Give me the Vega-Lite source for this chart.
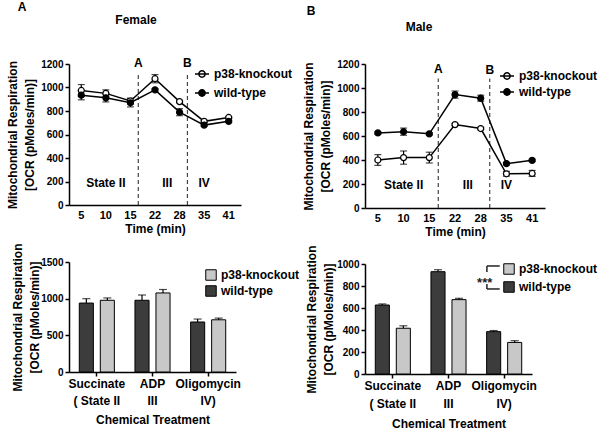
{
  "$schema": "https://vega.github.io/schema/vega-lite/v6.json",
  "padding": {"left": 6, "top": 0, "right": 0, "bottom": 0},
  "background": "white",
  "datasets": {
    "fline": [
      {"t": 5, "series": "p38-knockout", "v": 975, "e": 50},
      {"t": 10, "series": "p38-knockout", "v": 950, "e": 30},
      {"t": 15, "series": "p38-knockout", "v": 885, "e": 25},
      {"t": 22, "series": "p38-knockout", "v": 1075, "e": 35},
      {"t": 28, "series": "p38-knockout", "v": 880, "e": 10},
      {"t": 35, "series": "p38-knockout", "v": 712, "e": 10},
      {"t": 41, "series": "p38-knockout", "v": 745, "e": 8},
      {"t": 5, "series": "wild-type", "v": 935, "e": 40},
      {"t": 10, "series": "wild-type", "v": 912, "e": 35},
      {"t": 15, "series": "wild-type", "v": 870, "e": 35},
      {"t": 22, "series": "wild-type", "v": 980, "e": 10},
      {"t": 28, "series": "wild-type", "v": 790, "e": 30},
      {"t": 35, "series": "wild-type", "v": 680, "e": 10},
      {"t": 41, "series": "wild-type", "v": 712, "e": 10}
    ],
    "mline": [
      {"t": 5, "series": "p38-knockout", "v": 400, "e": 45},
      {"t": 10, "series": "p38-knockout", "v": 420, "e": 55},
      {"t": 15, "series": "p38-knockout", "v": 420, "e": 45},
      {"t": 22, "series": "p38-knockout", "v": 695, "e": 10},
      {"t": 28, "series": "p38-knockout", "v": 662, "e": 10},
      {"t": 35, "series": "p38-knockout", "v": 285, "e": 20},
      {"t": 41, "series": "p38-knockout", "v": 288, "e": 25},
      {"t": 5, "series": "wild-type", "v": 626, "e": 10},
      {"t": 10, "series": "wild-type", "v": 636, "e": 30},
      {"t": 15, "series": "wild-type", "v": 618, "e": 10},
      {"t": 22, "series": "wild-type", "v": 945, "e": 30},
      {"t": 28, "series": "wild-type", "v": 915, "e": 25},
      {"t": 35, "series": "wild-type", "v": 370, "e": 10},
      {"t": 41, "series": "wild-type", "v": 397, "e": 10}
    ],
    "fbar": [
      {"treatment": "Succinate", "series": "wild-type", "v": 940, "v2": 1000},
      {"treatment": "Succinate", "series": "p38-knockout", "v": 978, "v2": 1010},
      {"treatment": "ADP", "series": "wild-type", "v": 978, "v2": 1050},
      {"treatment": "ADP", "series": "p38-knockout", "v": 1078, "v2": 1125},
      {"treatment": "Oligomycin", "series": "wild-type", "v": 682, "v2": 722},
      {"treatment": "Oligomycin", "series": "p38-knockout", "v": 712, "v2": 735}
    ],
    "mbar": [
      {"treatment": "Succinate", "series": "wild-type", "v": 627, "v2": 637},
      {"treatment": "Succinate", "series": "p38-knockout", "v": 416, "v2": 438},
      {"treatment": "ADP", "series": "wild-type", "v": 930, "v2": 948},
      {"treatment": "ADP", "series": "p38-knockout", "v": 676, "v2": 688},
      {"treatment": "Oligomycin", "series": "wild-type", "v": 385, "v2": 395},
      {"treatment": "Oligomycin", "series": "p38-knockout", "v": 287, "v2": 303}
    ],
    "fphase": [{"t": 15, "v": 0, "v2": 1125}, {"t": 28, "v": 0, "v2": 1125}],
    "fphaselab": [{"t": 15, "label": "A", "v": 1210}, {"t": 28, "label": "B", "v": 1210}],
    "mphase": [{"t": 15, "v": 0, "v2": 1080}, {"t": 28, "v": 0, "v2": 1080}],
    "mphaselab": [{"t": 15, "label": "A", "v": 1155}, {"t": 28, "label": "B", "v": 1150}],
    "reg1": [{"t": 10, "label": "State II", "v": 190}, {"t": 35, "label": "IV", "v": 190}],
    "reg2": [{"t": 22, "label": "III", "v": 190}],
    "brkv": [{"treatment": "Oligomycin", "v": 982, "v2": 927}, {"treatment": "Oligomycin", "v": 818, "v2": 773}],
    "brkh": [{"treatment": "Oligomycin", "v": 982}, {"treatment": "Oligomycin", "v": 773}],
    "stars": [{"treatment": "Oligomycin", "v": 825, "label": "***"}]
  },
  "hconcat": [
    {
      "title": {"text": "A", "anchor": "start", "fontSize": 12, "fontWeight": "bold", "offset": 0, "dx": 11},
      "spacing": 8,
      "resolve": {"scale": {"x": "independent", "y": "independent", "fill": "independent"}, "legend": {"fill": "independent"}},
      "vconcat": [
        {"hconcat": [
        {
          "width": 172, "height": 141,
          "title": {"text": "Female", "anchor": "middle", "frame": "group", "dx": -19, "offset": 30, "fontSize": 12, "fontWeight": "bold"},
          "encoding": {
            "x": {"field": "t", "type": "ordinal", "scale": {"type": "band", "paddingInner": 0, "paddingOuter": 0}, "axis": {"title": "Time (min)", "labelAngle": 0, "ticks": false, "labelPadding": 4, "titlePadding": 3}},
            "y": {"field": "v", "type": "quantitative", "scale": {"domain": [0, 1200]}, "axis": {"title": ["Mitochondrial Respiration", "[OCR (pMoles/min)]"], "values": [0, 200, 400, 600, 800, 1000, 1200], "format": "d", "labelFontSize": 10, "tickSize": 4, "labelPadding": 2, "titlePadding": 4}}
          },
          "layer": [
            {"data": {"name": "fphase"}, "mark": {"type": "rule", "strokeDash": [4, 3], "color": "#444", "strokeWidth": 1.2},
             "encoding": {"x": {"field": "t", "type": "ordinal", "bandPosition": 0.82}, "y2": {"field": "v2"}}},
            {"data": {"name": "fphaselab"}, "mark": {"type": "text", "fontSize": 12, "fontWeight": "bold", "baseline": "middle"},
             "encoding": {"x": {"field": "t", "type": "ordinal", "bandPosition": 0.82}, "text": {"field": "label"}}},
            {"data": {"name": "reg1"}, "mark": {"type": "text", "fontSize": 12, "fontWeight": "bold", "baseline": "middle"},
             "encoding": {"text": {"field": "label"}}},
            {"data": {"name": "reg2"}, "mark": {"type": "text", "fontSize": 12, "fontWeight": "bold", "baseline": "middle"},
             "encoding": {"x": {"field": "t", "type": "ordinal", "bandPosition": 1}, "text": {"field": "label"}}},
            {"data": {"name": "fline"}, "mark": {"type": "errorbar", "ticks": {"size": 7}, "color": "black", "thickness": 1.2},
             "encoding": {"yError": {"field": "e"}}},
            {"data": {"name": "fline"}, "mark": {"type": "line", "color": "black", "strokeWidth": 1.5},
             "encoding": {"detail": {"field": "series"}}},
            {"data": {"name": "fline"}, "mark": {"type": "point", "size": 36, "stroke": "black", "strokeWidth": 1.2, "opacity": 1},
             "encoding": {"fill": {"field": "series", "type": "nominal", "scale": {"domain": ["p38-knockout", "wild-type"], "range": ["white", "black"]},
               "legend": {"orient": "none", "legendX": 125, "legendY": 2, "title": null, "symbolType": "M-1,0H1M0.45,0A0.45,0.45 0 1,1 -0.45,0A0.45,0.45 0 1,1 0.45,0Z", "symbolSize": 196, "symbolStrokeColor": "black", "symbolStrokeWidth": 1.5, "labelFontSize": 12, "rowPadding": 4}}}}
          ]
        }]},
        {"hconcat": [
        {
          "width": 167, "height": 110,
          "data": {"name": "fbar"},
          "encoding": {
            "x": {"field": "treatment", "type": "nominal", "sort": ["Succinate", "ADP", "Oligomycin"], "scale": {"paddingInner": 0, "paddingOuter": 0},
              "axis": {"title": "Chemical Treatment", "labelAngle": 0, "labelExpr": "datum.value=='Succinate'?['Succinate','( State II']:datum.value=='ADP'?['ADP','III']:['Oligomycin','IV)']", "labelLineHeight": 17, "labelFontSize": 12, "tickSize": 4, "labelPadding": 2, "titlePadding": 8}},
            "y": {"field": "v", "type": "quantitative", "scale": {"domain": [0, 1500]}, "axis": {"title": ["Mitochondrial Respiration", "[OCR (pMoles/min)]"], "values": [0, 500, 1000, 1500], "format": "d", "labelFontSize": 10, "tickSize": 4, "labelPadding": 2, "titlePadding": -1}},
            "xOffset": {"field": "series", "type": "nominal", "sort": ["wild-type", "p38-knockout"], "scale": {"paddingInner": 0.33, "paddingOuter": 0.49}}
          },
          "layer": [
            {"mark": {"type": "bar", "stroke": "black", "strokeWidth": 1},
             "encoding": {"fill": {"field": "series", "type": "nominal", "scale": {"domain": ["p38-knockout", "wild-type"], "range": ["#c8c8c8", "#3c3c3c"]},
               "legend": {"orient": "none", "legendX": 136, "legendY": 7, "title": null, "symbolType": "square", "symbolSize": 110, "symbolStrokeColor": "black", "symbolStrokeWidth": 1, "labelFontSize": 12, "rowPadding": 0}}}},
            {"mark": {"type": "rule", "color": "black", "strokeWidth": 1.2}, "encoding": {"y2": {"field": "v2"}}},
            {"mark": {"type": "tick", "color": "black", "thickness": 1.2, "size": 8}, "encoding": {"y": {"field": "v2", "type": "quantitative"}}}
          ]
        }]}
      ]
    },
    {
      "title": {"text": "B", "anchor": "start", "fontSize": 12, "fontWeight": "bold", "offset": 3, "dx": 4},
      "spacing": 7,
      "resolve": {"scale": {"x": "independent", "y": "independent", "fill": "independent"}, "legend": {"fill": "independent"}},
      "vconcat": [
        {"hconcat": [
        {
          "width": 180, "height": 144,
          "title": {"text": "Male", "anchor": "middle", "frame": "group", "dx": -36, "offset": 25, "fontSize": 12, "fontWeight": "bold"},
          "encoding": {
            "x": {"field": "t", "type": "ordinal", "scale": {"type": "band", "paddingInner": 0, "paddingOuter": 0}, "axis": {"title": "Time (min)", "labelAngle": 0, "ticks": false, "labelPadding": 4, "titlePadding": 3}},
            "y": {"field": "v", "type": "quantitative", "scale": {"domain": [0, 1200]}, "axis": {"title": ["Mitochondrial Respiration", "[OCR (pMoles/min)]"], "values": [0, 200, 400, 600, 800, 1000, 1200], "format": "d", "labelFontSize": 10, "tickSize": 4, "labelPadding": 2, "titlePadding": 4}}
          },
          "layer": [
            {"data": {"name": "mphase"}, "mark": {"type": "rule", "strokeDash": [4, 3], "color": "#444", "strokeWidth": 1.2},
             "encoding": {"x": {"field": "t", "type": "ordinal", "bandPosition": 0.85}, "y2": {"field": "v2"}}},
            {"data": {"name": "mphaselab"}, "mark": {"type": "text", "fontSize": 12, "fontWeight": "bold", "baseline": "middle"},
             "encoding": {"x": {"field": "t", "type": "ordinal", "bandPosition": 0.85}, "text": {"field": "label"}}},
            {"data": {"name": "reg1"}, "mark": {"type": "text", "fontSize": 12, "fontWeight": "bold", "baseline": "middle"},
             "encoding": {"text": {"field": "label"}}},
            {"data": {"name": "reg2"}, "mark": {"type": "text", "fontSize": 12, "fontWeight": "bold", "baseline": "middle"},
             "encoding": {"x": {"field": "t", "type": "ordinal", "bandPosition": 1}, "text": {"field": "label"}}},
            {"data": {"name": "mline"}, "mark": {"type": "errorbar", "ticks": {"size": 7}, "color": "black", "thickness": 1.2},
             "encoding": {"yError": {"field": "e"}}},
            {"data": {"name": "mline"}, "mark": {"type": "line", "color": "black", "strokeWidth": 1.5},
             "encoding": {"detail": {"field": "series"}}},
            {"data": {"name": "mline"}, "mark": {"type": "point", "size": 36, "stroke": "black", "strokeWidth": 1.2, "opacity": 1},
             "encoding": {"fill": {"field": "series", "type": "nominal", "scale": {"domain": ["p38-knockout", "wild-type"], "range": ["white", "black"]},
               "legend": {"orient": "none", "legendX": 134, "legendY": 4, "title": null, "symbolType": "M-1,0H1M0.45,0A0.45,0.45 0 1,1 -0.45,0A0.45,0.45 0 1,1 0.45,0Z", "symbolSize": 196, "symbolStrokeColor": "black", "symbolStrokeWidth": 1.5, "labelFontSize": 12, "rowPadding": 1}}}}
          ]
        }]},
        {"hconcat": [
        {
          "width": 167, "height": 110,
          "data": {"name": "mbar"},
          "encoding": {
            "x": {"field": "treatment", "type": "nominal", "sort": ["Succinate", "ADP", "Oligomycin"], "scale": {"paddingInner": 0, "paddingOuter": 0},
              "axis": {"title": "Chemical Treatment", "labelAngle": 0, "labelExpr": "datum.value=='Succinate'?['Succinate','( State II']:datum.value=='ADP'?['ADP','III']:['Oligomycin','IV)']", "labelLineHeight": 18, "labelFontSize": 12, "tickSize": 4, "labelPadding": 2, "titlePadding": 9}},
            "y": {"field": "v", "type": "quantitative", "scale": {"domain": [0, 1000]}, "axis": {"title": ["Mitochondrial Respiration", "[OCR (pMoles/min)]"], "values": [0, 200, 400, 600, 800, 1000], "format": "d", "labelFontSize": 10, "tickSize": 4, "labelPadding": 2, "titlePadding": 1}}
          },
          "layer": [
            {"mark": {"type": "bar", "stroke": "black", "strokeWidth": 1},
             "encoding": {"xOffset": {"field": "series", "type": "nominal", "sort": ["wild-type", "p38-knockout"], "scale": {"paddingInner": 0.33, "paddingOuter": 0.49}},
               "fill": {"field": "series", "type": "nominal", "scale": {"domain": ["p38-knockout", "wild-type"], "range": ["#c8c8c8", "#3c3c3c"]},
               "legend": {"orient": "none", "legendX": 138, "legendY": -1, "title": null, "symbolType": "square", "symbolSize": 110, "symbolStrokeColor": "black", "symbolStrokeWidth": 1, "labelFontSize": 12, "rowPadding": 2}}}},
            {"mark": {"type": "rule", "color": "black", "strokeWidth": 1.2}, "encoding": {"xOffset": {"field": "series", "type": "nominal", "sort": ["wild-type", "p38-knockout"]}, "y2": {"field": "v2"}}},
            {"mark": {"type": "tick", "color": "black", "thickness": 1.2, "size": 8}, "encoding": {"xOffset": {"field": "series", "type": "nominal", "sort": ["wild-type", "p38-knockout"]}, "y": {"field": "v2", "type": "quantitative"}}},
            {"data": {"name": "brkv"}, "mark": {"type": "rule", "color": "#222", "strokeWidth": 1.5},
             "encoding": {"x": {"field": "treatment", "type": "nominal", "bandPosition": 0.19}, "y2": {"field": "v2"}}},
            {"data": {"name": "brkh"}, "mark": {"type": "rule", "color": "#222", "strokeWidth": 1.5},
             "encoding": {"x": {"field": "treatment", "type": "nominal", "bandPosition": 0.19}, "x2": {"field": "treatment", "bandPosition": 0.42}}},
            {"data": {"name": "stars"}, "mark": {"type": "text", "fontSize": 13, "fontWeight": "bold", "baseline": "middle", "color": "#222"},
             "encoding": {"x": {"field": "treatment", "type": "nominal", "bandPosition": 0.15}, "text": {"field": "label"}}}
          ]
        }]}
      ]
    }
  ],
  "spacing": 2,
  "resolve": {"scale": {"x": "independent", "y": "independent", "fill": "independent"}, "legend": {"fill": "independent"}},
  "config": {
    "font": "Liberation Sans",
    "view": {"stroke": null},
    "axis": {"labelFont": "Liberation Sans", "labelFontWeight": "bold", "labelFontSize": 11, "labelColor": "black", "titleFont": "Liberation Sans", "titleFontWeight": "bold", "titleFontSize": 12, "titleColor": "black", "titleLineHeight": 17, "domainColor": "black", "tickColor": "black", "grid": false, "domainWidth": 1.5, "tickWidth": 1.5},
    "legend": {"labelFont": "Liberation Sans", "labelFontWeight": "bold", "labelColor": "black"},
    "title": {"font": "Liberation Sans", "color": "black"},
    "text": {"font": "Liberation Sans"}
  }
}
